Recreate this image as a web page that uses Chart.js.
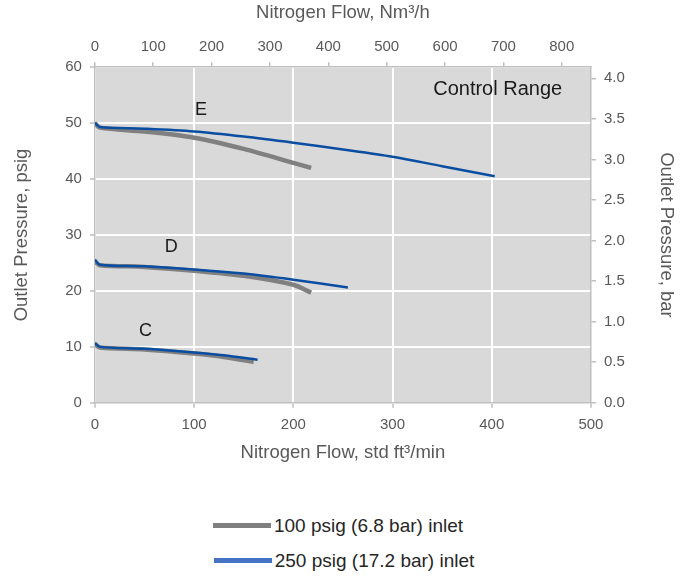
<!DOCTYPE html>
<html>
<head>
<meta charset="utf-8">
<script src="https://cdn.jsdelivr.net/npm/chart.js@4"></script>
<style>
  body { margin: 0; background: #fff; font-family: "Liberation Sans", Arial, sans-serif; }
  #wrap { position: relative; width: 684px; height: 579px; }
  #legend { position: absolute; left: 0; top: 508px; width: 684px; font-size: 19px; color: #262626; }
  .item { display: flex; align-items: center; justify-content: center; height: 35px; }
  .swatch { display: inline-block; width: 58px; height: 5px; margin-right: 3px; }
</style>
</head>
<body>
<div id="wrap">
  <canvas id="myChart" width="684" height="464"></canvas>
  <div id="legend">
    <div class="item" style="margin-left:-8px"><span class="swatch" style="background:#7f7f7f"></span>100 psig (6.8 bar) inlet</div>
    <div class="item" style="margin-left:4px"><span class="swatch" style="background:#4472c4"></span>250 psig (17.2 bar) inlet</div>
  </div>
</div>
<script>
// flow in std ft3/min, pressure in psig
const flowE100 = [0, 5, 50, 100, 150, 200, 218];
const presE100 = [50.0, 49.2, 48.5, 47.4, 45.4, 42.9, 42.0];
const flowE250 = [0, 5, 50, 100, 150, 200, 250, 300, 350, 403];
const presE250 = [50.1, 49.3, 49.0, 48.5, 47.6, 46.5, 45.3, 44.0, 42.3, 40.5];
const flowD100 = [0, 5, 50, 100, 150, 200, 218];
const presD100 = [25.3, 24.6, 24.3, 23.6, 22.7, 21.1, 19.7];
const flowD250 = [0, 5, 50, 100, 150, 200, 255];
const presD250 = [25.6, 24.7, 24.4, 23.85, 23.1, 22.0, 20.6];
const flowC100 = [0, 5, 50, 100, 130, 160];
const presC100 = [10.5, 9.9, 9.55, 8.8, 8.2, 7.3];
const flowC250 = [0, 5, 50, 100, 130, 164];
const presC250 = [10.7, 10.0, 9.65, 9.0, 8.5, 7.7];

const curveLabels = ['E', 'D', 'C'];
const labelFlow = [107, 77, 51];
const labelPres = [52.3, 27.9, 12.8];

const PSI_PER_BAR = 14.5038;
const NM3H_PER_SCFM = 1.7;

const GRAY = '#808080';
const BLUE = '#0a4ea2';
const AXIS = '#bfbfbf';
const TEXT = '#595959';

function pts(xs, ys) {
  return xs.map((x, i) => ({ x: x, y: ys[i] }));
}

function line(xs, ys, color, width) {
  return {
    data: pts(xs, ys),
    showLine: true,
    borderColor: color,
    borderWidth: width,
    pointRadius: 0,
    tension: 0.3,
    xAxisID: 'x',
    yAxisID: 'y'
  };
}

const plotBg = {
  id: 'plotBg',
  beforeDraw(chart) {
    const { ctx, chartArea } = chart;
    ctx.save();
    ctx.fillStyle = '#d9d9d9';
    ctx.fillRect(chartArea.left, chartArea.top, chartArea.right - chartArea.left, chartArea.bottom - chartArea.top);
    ctx.restore();
  }
};

const notes = {
  id: 'notes',
  afterDatasetsDraw(chart) {
    const { ctx, scales } = chart;
    ctx.save();
    ctx.fillStyle = '#1a1a1a';
    ctx.textAlign = 'center';
    ctx.textBaseline = 'middle';
    ctx.font = '18px "Liberation Sans", Arial, sans-serif';
    curveLabels.forEach((t, i) => {
      ctx.fillText(t, scales.x.getPixelForValue(labelFlow[i]), scales.y.getPixelForValue(labelPres[i]));
    });
    ctx.font = '20px "Liberation Sans", Arial, sans-serif';
    ctx.fillText('Control Range', scales.x.getPixelForValue(406), scales.y.getPixelForValue(56));
    ctx.restore();
  }
};

const tickFont = { family: '"Liberation Sans", Arial, sans-serif', size: 15 };
const titleFont = { family: '"Liberation Sans", Arial, sans-serif', size: 18.5 };

new Chart(document.getElementById('myChart'), {
  type: 'scatter',
  data: {
    datasets: [
      line(flowE250, presE250, BLUE, 2.5),
      line(flowD250, presD250, BLUE, 2.5),
      line(flowC250, presC250, BLUE, 2.5),
      line(flowE100, presE100, GRAY, 4.5),
      line(flowD100, presD100, GRAY, 4.5),
      line(flowC100, presC100, GRAY, 4.5)
    ]
  },
  options: {
    responsive: false,
    animation: false,
    layout: { padding: { left: 11, right: 7, top: 2, bottom: 0 } },
    plugins: { legend: { display: false }, tooltip: { enabled: false } },
    scales: {
      x: {
        type: 'linear', position: 'bottom', min: 0, max: 500,
        ticks: { stepSize: 100, color: TEXT, font: tickFont, padding: 8 },
        grid: { color: '#ffffff', lineWidth: 2, tickColor: AXIS, tickLength: 5, tickWidth: 1.5 },
        border: { color: AXIS, width: 1.5 },
        title: { display: true, text: 'Nitrogen Flow, std ft³/min', color: TEXT, font: titleFont, padding: { top: 0, bottom: 0 } }
      },
      x2: {
        type: 'linear', position: 'top', min: 0, max: 500 * NM3H_PER_SCFM,
        ticks: { stepSize: 100, includeBounds: false, color: TEXT, font: tickFont, padding: 6 },
        grid: { drawOnChartArea: false, color: AXIS, tickLength: 5, lineWidth: 1.5 },
        border: { color: AXIS, width: 1.5 },
        title: { display: true, text: 'Nitrogen Flow, Nm³/h', color: TEXT, font: titleFont, padding: { top: 0, bottom: 8 } }
      },
      y: {
        type: 'linear', position: 'left', min: 0, max: 60,
        ticks: { stepSize: 10, color: TEXT, font: tickFont, padding: 8 },
        grid: { color: '#ffffff', lineWidth: 2, tickColor: AXIS, tickLength: 5, tickWidth: 1.5 },
        border: { color: AXIS, width: 1.5 },
        title: { display: true, text: 'Outlet Pressure, psig', color: TEXT, font: titleFont, padding: { top: 0, bottom: 24 } }
      },
      y2: {
        type: 'linear', position: 'right', min: 0, max: 60 / PSI_PER_BAR,
        ticks: { stepSize: 0.5, includeBounds: false, color: TEXT, font: tickFont, padding: 8, callback: v => v.toFixed(1) },
        grid: { drawOnChartArea: false, color: AXIS, tickLength: 5, lineWidth: 1.5 },
        border: { color: AXIS, width: 1.5 },
        title: { display: true, text: 'Outlet Pressure, bar', color: TEXT, font: titleFont, padding: { top: 0, bottom: 22 } }
      }
    }
  },
  plugins: [plotBg, notes]
});
</script>
</body>
</html>
